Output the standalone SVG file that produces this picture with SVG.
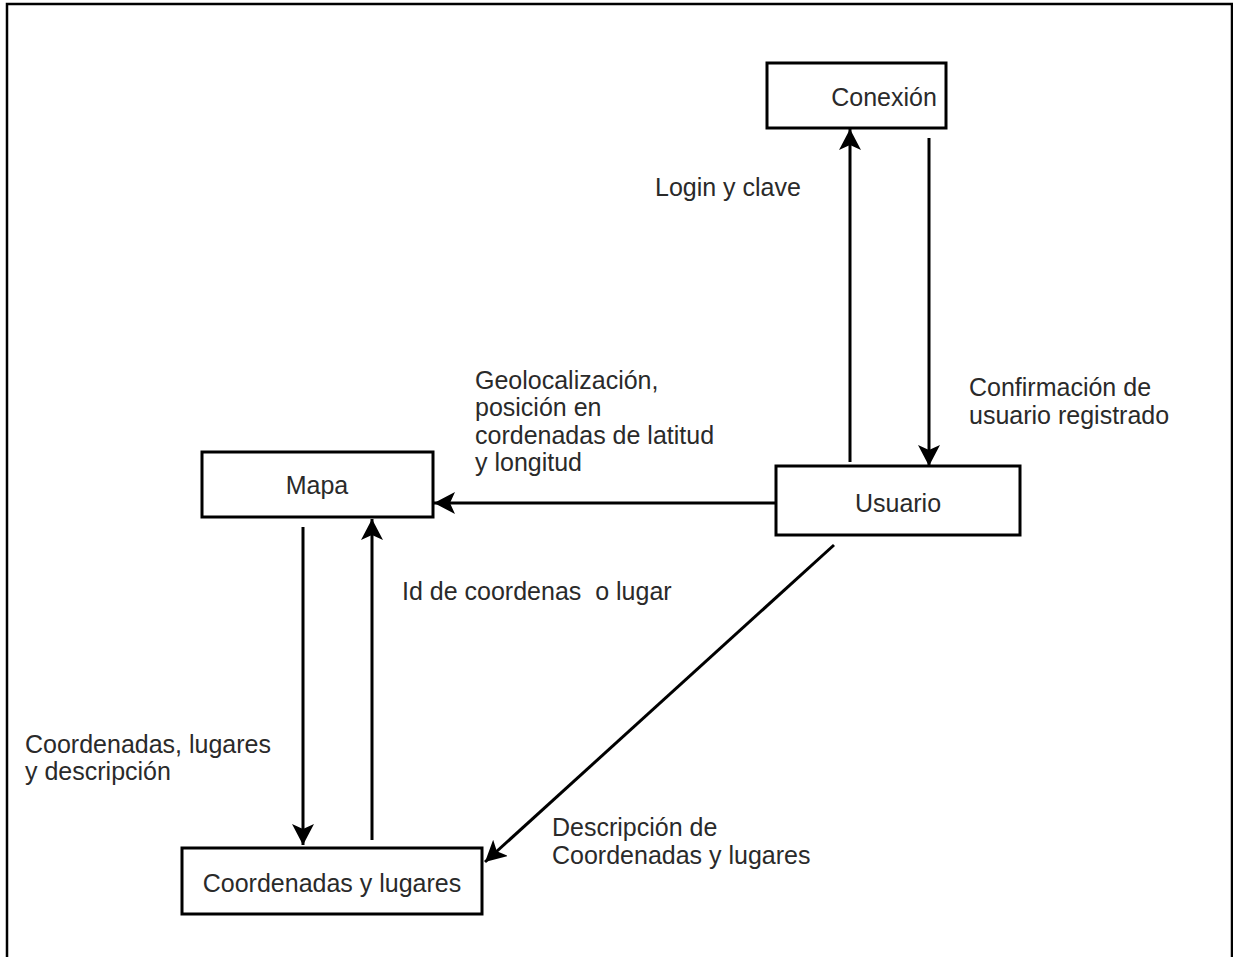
<svg xmlns="http://www.w3.org/2000/svg" width="1233" height="957" viewBox="0 0 1233 957">
  <style>
    .box { fill: #ffffff; stroke: #000000; stroke-width: 3; }
    .lbl { font-family: "Liberation Sans", Arial, sans-serif; font-size: 25px; fill: #2a2a2a; }
    .mid { text-anchor: middle; }
    .flow { stroke: #000000; stroke-width: 3; fill: none; marker-end: url(#head); }
  </style>
  <defs>
    <marker id="head" markerUnits="userSpaceOnUse" markerWidth="26" markerHeight="26" refX="21" refY="11" orient="auto">
      <path d="M0,0 L21,11 L0,22 L5,11 z" fill="#000000"/>
    </marker>
  </defs>

  <!-- page frame -->
  <rect x="7" y="4" width="1225" height="970" fill="#ffffff" stroke="#000000" stroke-width="2.5"/>

  <!-- connectors -->
  <g id="connectors">
    <line class="flow" x1="850" y1="462" x2="850" y2="129"/>
    <line class="flow" x1="929" y1="138" x2="929" y2="466"/>
    <line class="flow" x1="776" y1="503" x2="434" y2="503"/>
    <line class="flow" x1="303" y1="527" x2="303" y2="845"/>
    <line class="flow" x1="372" y1="840" x2="372" y2="519"/>
    <line class="flow" x1="834" y1="545" x2="485" y2="862"/>

    <text class="lbl" x="655" y="196">Login y clave</text>
    <text class="lbl" x="969" y="396">Confirmación de</text>
    <text class="lbl" x="969" y="424">usuario registrado</text>
    <text class="lbl" x="475" y="389">Geolocalización,</text>
    <text class="lbl" x="475" y="416">posición en</text>
    <text class="lbl" x="475" y="444">cordenadas de latitud</text>
    <text class="lbl" x="475" y="471">y longitud</text>
    <text class="lbl" x="402" y="600" xml:space="preserve">Id de coordenas  o lugar</text>
    <text class="lbl" x="25" y="753">Coordenadas, lugares</text>
    <text class="lbl" x="25" y="780">y descripción</text>
    <text class="lbl" x="552" y="836">Descripción de</text>
    <text class="lbl" x="552" y="864">Coordenadas y lugares</text>
  </g>

  <!-- nodes -->
  <g id="conexion">
    <rect class="box" x="767" y="63" width="179" height="65"/>
    <text class="lbl mid" x="884" y="106">Conexión</text>
  </g>
  <g id="usuario">
    <rect class="box" x="776" y="466" width="244" height="69"/>
    <text class="lbl mid" x="898" y="512">Usuario</text>
  </g>
  <g id="mapa">
    <rect class="box" x="202" y="452" width="231" height="65"/>
    <text class="lbl mid" x="317" y="494">Mapa</text>
  </g>
  <g id="coordenadas">
    <rect class="box" x="182" y="848" width="300" height="66"/>
    <text class="lbl mid" x="332" y="892">Coordenadas y lugares</text>
  </g>
</svg>
